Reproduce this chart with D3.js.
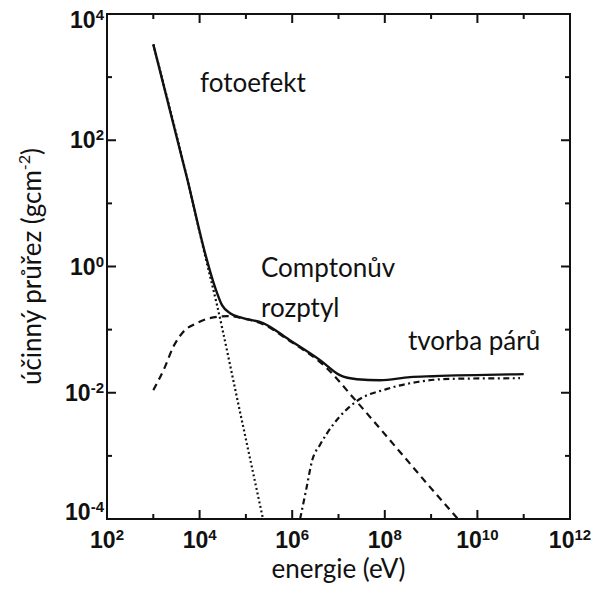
<!DOCTYPE html>
<html>
<head>
<meta charset="utf-8">
<script src="https://cdn.jsdelivr.net/npm/d3@7"></script>
<style>
  body { margin: 0; background: #fff; }
  svg { display: block; }
</style>
</head>
<body>
<svg id="chart" width="592" height="590"></svg>
<script>
// Energy (eV) and mass cross-section (g cm^-2) for each interaction process
const totalEnergy = [1e3, 5.6e3, 1.31e4, 2.15e4, 3.05e4, 4.54e4, 8.65e4, 2.34e5, 8.9e5, 4.0e6, 1.07e7, 2.5e7, 7.9e7, 3.5e8, 1.1e9, 1e11];
const totalValue  = [3300, 22, 1.63, 0.47, 0.244, 0.182, 0.152, 0.127, 0.068, 0.0329, 0.019, 0.0164, 0.0158, 0.0177, 0.0183, 0.0197];

const photoEnergy = [1e3, 5.6e3, 1.31e4, 2.38e4, 7.1e4, 2.34e5];
const photoValue  = [3300, 22, 1.5, 0.244, 0.0059, 1.0e-4];

const comptonEnergy = [1e3, 1.78e3, 2.69e3, 4.37e3, 8.7e3, 1.66e4, 4.07e4, 9e4, 2.34e5, 8.9e5, 4.0e6, 5.6e6, 2.04e7, 1.82e8, 9.5e8, 3.8e9];
const comptonValue  = [0.011, 0.0255, 0.053, 0.091, 0.127, 0.152, 0.164, 0.15, 0.122, 0.066, 0.0305, 0.0245, 0.0085, 0.00132, 3.2e-4, 1.0e-4];

const pairEnergy = [1.48e6, 2.0e6, 2.7e6, 4.0e6, 7.6e6, 2.5e7, 1.12e8, 5.0e8, 2.57e9, 8.3e10];
const pairValue  = [1.0e-4, 2.9e-4, 8.5e-4, 1.5e-3, 3.1e-3, 7.4e-3, 0.0115, 0.0148, 0.0166, 0.017];

// Axis ticks (powers of ten)
const xMajorExp = [2, 4, 6, 8, 10, 12];
const xMinorExp = [3, 5, 7, 9, 11];
const yMajorExp = [4, 2, 0, -2, -4];
const yMinorExp = [3, 1, -1, -3];

const xTitle = "energie (eV)";
const yTitle = "účinný průřez (gcm";
const yTitleSup = "-2";
const yTitleEnd = ")";

const labels = [
  { lines: ["fotoefekt"], x: 200, y: 92 },
  { lines: ["Comptonův", "rozptyl"], x: 261, y: 277 },
  { lines: ["tvorba párů"], x: 408, y: 350 }
];

const svg = d3.select("#chart");
const pLeft = 107, pRight = 570, pTop = 14, pBottom = 519;

const x = d3.scaleLog().domain([1e2, 1e12]).range([pLeft, pRight]);
const y = d3.scaleLog().domain([1e-4, 1e4]).range([pBottom, pTop]);

const tickFont = "'Liberation Sans', Arial, Helvetica, sans-serif";
const textFont = "Lato, 'Open Sans', sans-serif";

// Plot-area clip
svg.append("defs").append("clipPath").attr("id", "plotClip")
  .append("rect").attr("x", pLeft).attr("y", pTop)
  .attr("width", pRight - pLeft).attr("height", pBottom - pTop);

// Inward ticks on all four sides of the frame
const tickG = svg.append("g").attr("stroke", "#111").attr("stroke-width", 2);
function xTicks(exps, len) {
  [[pBottom, -len], [pTop, len]].forEach(([y0, dir]) => {
    tickG.append("g").selectAll("line").data(exps).join("line")
      .attr("x1", e => x(Math.pow(10, e))).attr("x2", e => x(Math.pow(10, e)))
      .attr("y1", y0).attr("y2", y0 + dir);
  });
}
function yTicks(exps, len) {
  [[pLeft, len], [pRight, -len]].forEach(([x0, dir]) => {
    tickG.append("g").selectAll("line").data(exps).join("line")
      .attr("y1", e => y(Math.pow(10, e))).attr("y2", e => y(Math.pow(10, e)))
      .attr("x1", x0).attr("x2", x0 + dir);
  });
}
xTicks(xMajorExp, 9);
xTicks(xMinorExp, 5);
yTicks(yMajorExp, 9);
yTicks(yMinorExp, 5);

// Frame
svg.append("rect").attr("x", pLeft).attr("y", pTop)
  .attr("width", pRight - pLeft).attr("height", pBottom - pTop)
  .attr("fill", "none").attr("stroke", "#111").attr("stroke-width", 2);

// Power-of-ten tick labels
function powerLabel(sel, exp) {
  sel.append("tspan").text("10");
  sel.append("tspan").attr("font-size", 15).attr("dy", -8).text(String(exp));
}
const xLab = svg.append("g").attr("font-family", tickFont).attr("font-weight", "bold")
  .attr("font-size", 23).attr("fill", "#111");
xMajorExp.forEach(e => {
  xLab.append("text").attr("x", x(Math.pow(10, e))).attr("y", 548)
    .attr("text-anchor", "middle").call(powerLabel, e);
});
const yLab = svg.append("g").attr("font-family", tickFont).attr("font-weight", "bold")
  .attr("font-size", 23).attr("fill", "#111");
yMajorExp.forEach((e, i) => {
  const ty = y(Math.pow(10, e));
  const base = i === 0 ? ty + 14 : (i === yMajorExp.length - 1 ? ty + 1 : ty + 8);
  yLab.append("text").attr("x", 104).attr("y", base)
    .attr("text-anchor", "end").call(powerLabel, e);
});

// Curves
const line = d3.line().x(d => x(d[0])).y(d => y(d[1])).curve(d3.curveMonotoneX);
const plot = svg.append("g").attr("clip-path", "url(#plotClip)").attr("fill", "none").attr("stroke", "#111");

plot.append("path").datum(d3.zip(photoEnergy, photoValue))
  .attr("d", line).attr("stroke-width", 2.2).attr("stroke-dasharray", "2 2.6");
plot.append("path").datum(d3.zip(comptonEnergy, comptonValue))
  .attr("d", line).attr("stroke-width", 2.2).attr("stroke-dasharray", "7 5");
plot.append("path").datum(d3.zip(pairEnergy, pairValue))
  .attr("d", line).attr("stroke-width", 2.2).attr("stroke-dasharray", "6 3.5 2 3.5");
plot.append("path").datum(d3.zip(totalEnergy, totalValue))
  .attr("d", line).attr("stroke-width", 2.4);

// Process labels
const lab = svg.append("g").attr("font-family", textFont).attr("font-size", 26).attr("fill", "#111");
labels.forEach(l => {
  const t = lab.append("text").attr("x", l.x).attr("y", l.y);
  l.lines.forEach((s, i) => t.append("tspan").attr("x", l.x).attr("dy", i === 0 ? 0 : 40).text(s));
});

// Axis titles
svg.append("text").attr("x", (pLeft + pRight) / 2).attr("y", 578)
  .attr("text-anchor", "middle").attr("font-family", textFont).attr("font-size", 26)
  .attr("fill", "#111").text(xTitle);

const yt = svg.append("text").attr("transform", `translate(41,${(pTop + pBottom) / 2}) rotate(-90)`)
  .attr("text-anchor", "middle").attr("font-family", textFont).attr("font-size", 26).attr("fill", "#111");
yt.append("tspan").text(yTitle);
yt.append("tspan").attr("font-size", 16).attr("dy", -11).text(yTitleSup);
yt.append("tspan").attr("dy", 11).text(yTitleEnd);
</script>
</body>
</html>
